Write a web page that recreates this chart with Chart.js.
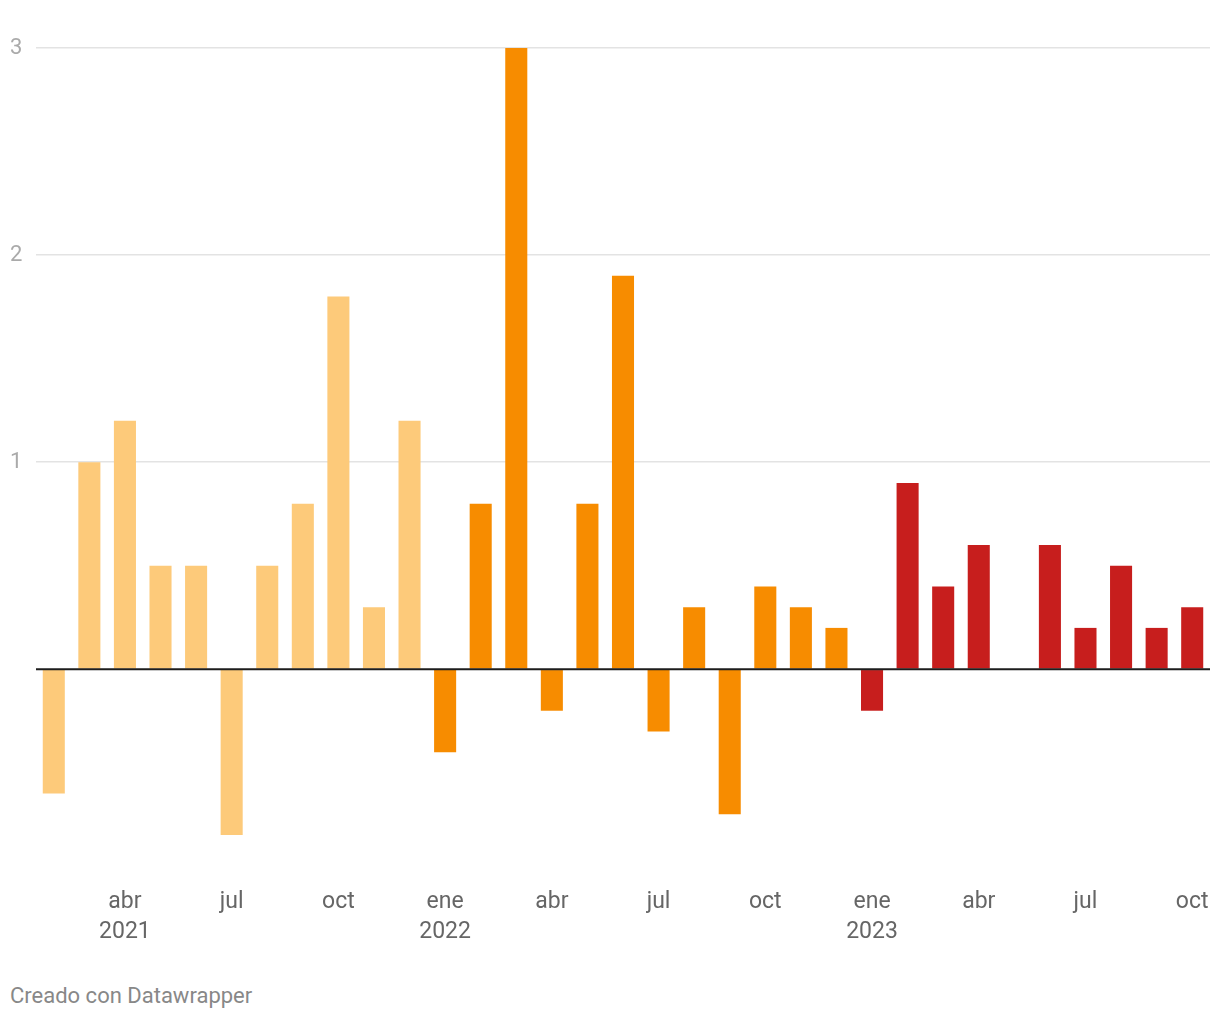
<!DOCTYPE html>
<html>
<head>
<meta charset="utf-8">
<script src="https://cdn.jsdelivr.net/npm/chart.js@4/dist/chart.umd.min.js"></script>
<style>
  body { margin: 0; background: #fff; font-family: Roboto, sans-serif; }
  #wrap { position: relative; width: 1220px; height: 960px; }
  #footer { position: absolute; left: 10px; top: 983px; font-size: 22px; color: #888; }
</style>
</head>
<body>
<div id="wrap"><canvas id="chart"></canvas></div>
<div id="footer">Creado con Datawrapper</div>
<script>
// months feb 2021 .. oct 2023
const months = ['feb', 'mar', 'abr', 'may', 'jun', 'jul', 'ago', 'sep', 'oct', 'nov', 'dic',
    'ene', 'feb', 'mar', 'abr', 'may', 'jun', 'jul', 'ago', 'sep', 'oct', 'nov', 'dic',
    'ene', 'feb', 'mar', 'abr', 'may', 'jun', 'jul', 'ago', 'sep', 'oct'];
const years = [2021, 2021, 2021, 2021, 2021, 2021, 2021, 2021, 2021, 2021, 2021,
    2022, 2022, 2022, 2022, 2022, 2022, 2022, 2022, 2022, 2022, 2022, 2022,
    2023, 2023, 2023, 2023, 2023, 2023, 2023, 2023, 2023, 2023];
const values = [-0.6, 1.0, 1.2, 0.5, 0.5, -0.8, 0.5, 0.8, 1.8, 0.3, 1.2,
    -0.4, 0.8, 3.0, -0.2, 0.8, 1.9, -0.3, 0.3, -0.7, 0.4, 0.3, 0.2,
    -0.2, 0.9, 0.4, 0.6, 0, 0.6, 0.2, 0.5, 0.2, 0.3];
const xTickLabels = ['', '', ['abr', '2021'], '', '', 'jul', '', '', 'oct', '', '',
    ['ene', '2022'], '', '', 'abr', '', '', 'jul', '', '', 'oct', '', '',
    ['ene', '2023'], '', '', 'abr', '', '', 'jul', '', '', 'oct'];
const yTicks = [0, 1, 2, 3];
const yearColors = { 2021: '#fdca7a', 2022: '#f78c00', 2023: '#c71e1d' };

const labels = months.map((m, i) => m + ' ' + years[i]);

const zeroLine = {
    id: 'zeroLine',
    afterDatasetsDraw(chart) {
        const ctx = chart.ctx;
        const y = chart.scales.y.getPixelForValue(0);
        ctx.save();
        ctx.strokeStyle = '#1d1d1d';
        ctx.lineWidth = 2;
        ctx.beginPath();
        ctx.moveTo(chart.chartArea.left, y);
        ctx.lineTo(chart.chartArea.right, y);
        ctx.stroke();
        ctx.restore();
    }
};

const ctx = document.getElementById('chart').getContext('2d');
const chart = new Chart(ctx, {
    type: 'bar',
    data: {
        labels: labels,
        datasets: [{
            data: values,
            backgroundColor: years.map(y => yearColors[y]),
            barPercentage: 0.62,
            categoryPercentage: 1
        }]
    },
    options: {
        responsive: true,
        maintainAspectRatio: false,
        animation: false,
        layout: { padding: { top: 48, right: 10, left: 10, bottom: 0 } },
        plugins: { legend: { display: false }, tooltip: { enabled: false } },
        scales: {
            x: {
                grid: { display: false, drawTicks: false },
                border: { display: false },
                afterFit: s => { s.height = 125; s.paddingLeft = 0; s.paddingRight = 0; },
                ticks: {
                    autoSkip: false,
                    maxRotation: 0,
                    padding: 52,
                    color: '#666',
                    font: { family: 'Roboto', size: 23, lineHeight: 1.3 },
                    callback: (v, i) => xTickLabels[i]
                }
            },
            y: {
                min: -0.8,
                max: 3,
                afterBuildTicks: s => { s.ticks = yTicks.map(v => ({ value: v })); },
                afterFit: s => { s.width = 26; },
                border: { display: false },
                grid: {
                    drawTicks: false,
                    color: c => c.tick && c.tick.value === 0 ? 'rgba(0,0,0,0)' : '#e3e3e3',
                    lineWidth: 1.5
                },
                ticks: {
                    padding: 0,
                    crossAlign: 'far',
                    color: '#aaa',
                    font: { family: 'Roboto', size: 22 },
                    callback: v => v === 0 ? '' : v
                }
            }
        }
    },
    plugins: [zeroLine]
});
</script>
</body>
</html>
